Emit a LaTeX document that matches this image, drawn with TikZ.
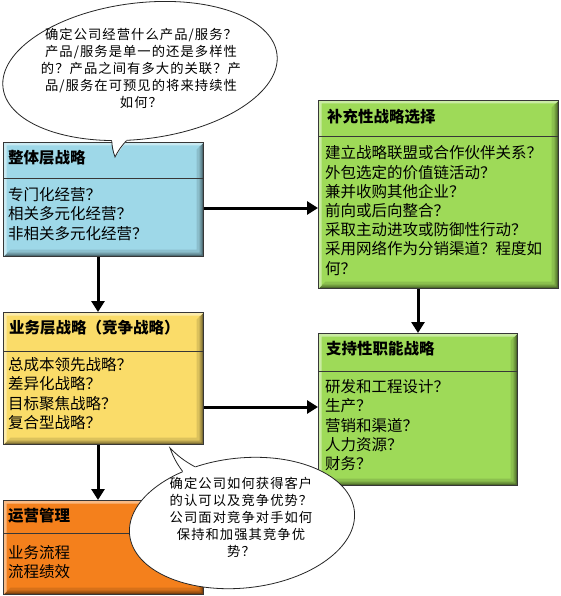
\documentclass[tikz,border=0pt]{standalone}
\usepackage{fontspec}
\setmainfont{Noto Sans CJK SC}
\newfontfamily\bubblefont{Noto Sans CJK SC}[LetterSpace=8]
\usetikzlibrary{shapes.geometric,arrows.meta}
\definecolor{bfill}{RGB}{158,216,232}
\definecolor{yfill}{RGB}{250,220,105}
\definecolor{gfill}{RGB}{158,218,88}
\definecolor{ofill}{RGB}{244,128,28}
\definecolor{edgec}{RGB}{55,55,55}
\tikzset{
  bevelbox/.style={draw=edgec, line width=1pt, anchor=north west, inner sep=0pt, fill=#1,
    path picture={
      \fill[#1!88!black] (path picture bounding box.south west) -- (path picture bounding box.south east) -- (path picture bounding box.north east) -- ([xshift=-7pt,yshift=-7pt]path picture bounding box.north east) -- ([xshift=-7pt,yshift=7pt]path picture bounding box.south east) -- ([xshift=7pt,yshift=7pt]path picture bounding box.south west) -- cycle;
      \fill[#1!72!black] (path picture bounding box.south west) -- (path picture bounding box.south east) -- (path picture bounding box.north east) -- ([xshift=-4pt,yshift=-4pt]path picture bounding box.north east) -- ([xshift=-4pt,yshift=4pt]path picture bounding box.south east) -- ([xshift=4pt,yshift=4pt]path picture bounding box.south west) -- cycle;
      \fill[#1!50!black] (path picture bounding box.south west) -- (path picture bounding box.south east) -- (path picture bounding box.north east) -- ([xshift=-2pt,yshift=-2pt]path picture bounding box.north east) -- ([xshift=-2pt,yshift=2pt]path picture bounding box.south east) -- ([xshift=2pt,yshift=2pt]path picture bounding box.south west) -- cycle;
      \fill[#1!55!white] (path picture bounding box.south west) -- (path picture bounding box.north west) -- (path picture bounding box.north east) -- ([xshift=-3pt,yshift=-3pt]path picture bounding box.north east) -- ([xshift=3pt,yshift=-3pt]path picture bounding box.north west) -- ([xshift=3pt,yshift=3pt]path picture bounding box.south west) -- cycle;
    }},
  titletext/.style={anchor=west, inner sep=0pt, font=\fontsize{15.5}{18}\selectfont\bfseries},
  bodytext/.style={anchor=north west, inner sep=0pt, align=left, font=\fontsize{15.5}{19.2}\selectfont},
  divider/.style={draw=edgec, line width=1pt},
  arr/.style={line width=3pt, -{Triangle[length=11pt,width=13pt]}},
  bubble/.style={ellipse, draw=black!85, line width=0.8pt, fill=white, inner sep=0pt},
  bubbletext/.style={inner sep=0pt, align=center, font=\bubblefont\fontsize{13.3}{17}\selectfont},
}
\begin{document}
\begin{tikzpicture}[x=1pt,y=-1pt]
\useasboundingbox[fill=white] (0,0) rectangle (561,596);

% boxes
\node[bevelbox=bfill, minimum width=200pt, minimum height=114pt] (b1) at (3,142) {};
\node[bevelbox=yfill, minimum width=200pt, minimum height=132pt] (b2) at (3,312) {};
\node[bevelbox=gfill, minimum width=240pt, minimum height=188pt] (b3) at (318,100) {};
\node[bevelbox=gfill, minimum width=199pt, minimum height=152pt] (b4) at (318,333) {};
\node[bevelbox=ofill, minimum width=200pt, minimum height=94pt] (b5) at (3,500) {};

% dividers
\draw[divider] ([yshift=-36pt]b1.north west) -- ([yshift=-36pt]b1.north east);
\draw[divider] ([yshift=-39pt]b2.north west) -- ([yshift=-39pt]b2.north east);
\draw[divider] ([yshift=-37pt]b3.north west) -- ([yshift=-37pt]b3.north east);
\draw[divider] ([yshift=-38pt]b4.north west) -- ([yshift=-38pt]b4.north east);
\draw[divider] ([yshift=-33pt]b5.north west) -- ([yshift=-33pt]b5.north east);

% titles
\node[titletext] (t1) at (8,158) {整体层战略};
\node[titletext] (t2) at (9,328) {业务层战略（竞争战略）};
\node[titletext] (t3) at (327,117) {补充性战略选择};
\node[titletext] (t4) at (326,349) {支持性职能战略};
\node[titletext] (t5) at (8,516) {运营管理};

% bodies
\node[bodytext] (p1) at (8,187.5) {专门化经营？\\相关多元化经营？\\非相关多元化经营？};
\node[bodytext] (p2) at (8,357.5) {总成本领先战略？\\差异化战略？\\目标聚焦战略？\\复合型战略？};
\node[bodytext] (p3) at (325,145.5) {建立战略联盟或合作伙伴关系？\\外包选定的价值链活动？\\兼并收购其他企业？\\前向或后向整合？\\采取主动进攻或防御性行动？\\采用网络作为分销渠道？程度如\\何？};
\node[bodytext] (p4) at (325,379.5) {研发和工程设计？\\生产？\\营销和渠道？\\人力资源？\\财务？};
\node[bodytext] (p5) at (8,545.5) {业务流程\\流程绩效};

% arrows
\coordinate (h1) at (0,208);
\coordinate (h2) at (0,407);
\coordinate (v1) at (98,0);
\coordinate (v2) at (418,0);
\draw[arr] (b1.east |- h1) -- (b3.west |- h1);
\draw[arr] (b2.east |- h2) -- (b4.west |- h2);
\draw[arr] (b1.south -| v1) -- (b2.north -| v1);
\draw[arr] (b2.south -| v1) -- (b5.north -| v1);
\draw[arr] (b3.south -| v2) -- (b4.north -| v2);

% callout 1
\node[bubble, minimum width=276pt, minimum height=136pt, rotate=7] (c1) at (140,71) {};
\coordinate (k1) at (115,157);
\fill[white] (c1.241) -- (k1) -- (c1.252) -- (c1.center) -- cycle;
\draw[black!85, line width=0.8pt] (c1.241) to[bend right=8] (k1) to[bend left=8] (c1.252);
\node[bubbletext] (c1t) at (141,68) {确定公司经营什么产品/服务？\\产品/服务是单一的还是多样性\\的？产品之间有多大的关联？产\\品/服务在可预见的将来持续性\\如何？};

% callout 2
\node[bubble, minimum width=226pt, minimum height=130pt, rotate=6] (c2) at (242,523) {};
\coordinate (k2) at (170,448);
\fill[white] (c2.133) -- (k2) -- (c2.124) -- (c2.center) -- cycle;
\draw[black!85, line width=0.8pt] (c2.133) to[bend left=8] (k2) to[bend right=8] (c2.124);
\node[bubbletext] (c2t) at (241,517) {确定公司如何获得客户\\的认可以及竞争优势？\\公司面对竞争对手如何\\保持和加强其竞争优\\势？};
\end{tikzpicture}
\end{document}
